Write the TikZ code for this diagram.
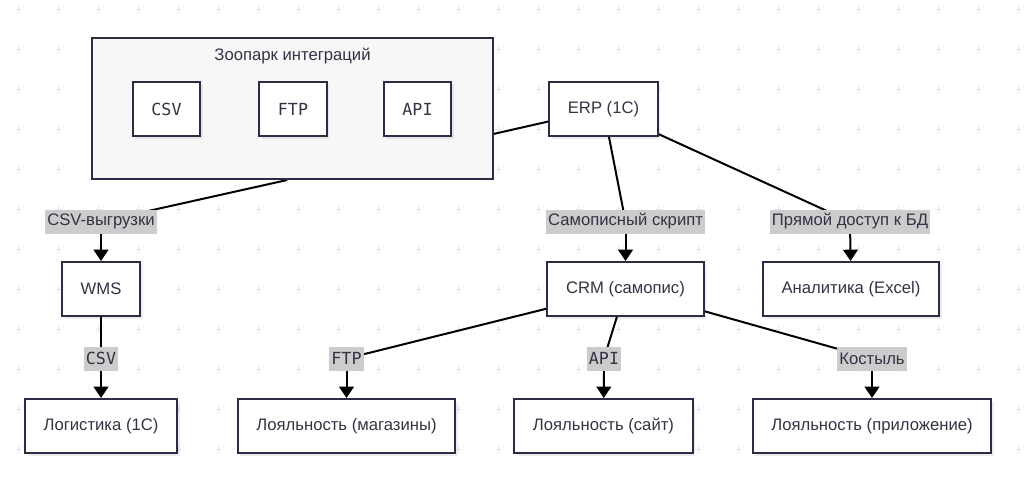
\documentclass[tikz,border=0pt]{standalone}
\usepackage{fontspec}
\setmainfont{Liberation Sans}
\newfontfamily\plexmono{DejaVu Sans Mono}
\usetikzlibrary{arrows.meta,shadows}
\definecolor{boxline}{HTML}{2E2B45}
\definecolor{boxtext}{HTML}{333344}
\definecolor{zoofill}{HTML}{F7F7F7}
\definecolor{labelfill}{HTML}{CCCCCC}
\definecolor{gridmark}{HTML}{DDE9EE}
\newcommand{\lineWidth}[0]{1.5pt}
\newcommand{\boxFont}[0]{\fontsize{12.5}{14}\selectfont}
\newcommand{\mono}[1]{{\plexmono #1}}
\pgfdeclarelayer{grid}
\pgfdeclarelayer{edges}
\pgfsetlayers{grid,edges,main}

\begin{document}
\begin{tikzpicture}[x=0.75pt, y=-0.75pt]
  \tikzset{
    box/.style={draw=boxline, line width=\lineWidth, fill=white, text=boxtext,
      minimum height=40.5pt, inner xsep=14pt, font=\boxFont,
      drop shadow={shadow xshift=2pt, shadow yshift=-2pt, fill=black, opacity=0.07}},
    edgelabel/.style={fill=labelfill, text=boxtext, inner xsep=1.5pt, inner ysep=0pt,
      minimum height=18pt, font=\boxFont},
    link/.style={line width=\lineWidth, black},
    arrow/.style={link, -{Triangle[length=8.5pt,width=11pt]}}
  }
  \useasboundingbox (0,0) rectangle (1024,480);
  % dotted background
  \begin{pgfonlayer}{grid}
    \fill[white] (0,0) rectangle (1024,480);
    \foreach \gx in {18,38,...,1018}
      \foreach \gy in {9,29,...,469}
        \fill[gridmark!70] (\gx,\gy) circle (0.5pt);
    \foreach \gx in {18,58,...,1018}
      \foreach \gy in {9,49,...,449}
        \draw[gridmark, line width=0.7pt] (\gx-3,\gy) -- (\gx+3,\gy) (\gx,\gy-3) -- (\gx,\gy+3);
  \end{pgfonlayer}

  % integration zoo
  \node[draw=boxline, line width=\lineWidth, fill=zoofill, minimum width=300.75pt,
    minimum height=105.75pt] (Zoo) at (292.5,108.5) {};
  \node[anchor=north, text=boxtext, font=\boxFont] (Zoo-title) at ([yshift=-4.5pt]Zoo.north) {Зоопарк интеграций};
  \node[box] (Zoo-1) at (166.5,109) {\mono{CSV}};
  \node[box] (Zoo-2) at (293,109) {\mono{FTP}};
  \node[box] (Zoo-3) at (417.5,109) {\mono{API}};

  % systems
  \node[box] (ERP) at (603.5,109) {ERP (1С)};
  \node[box] (WMS) at (101,289) {WMS};
  \node[box] (CRM) at (625.5,289) {CRM (самопис)};
  \node[box] (An-1) at (851,289) {Аналитика (Excel)};
  \node[box] (Log-1) at (101,426) {Логистика (1С)};
  \node[box] (Loy-1) at (346.5,426) {Лояльность (магазины)};
  \node[box] (Loy-2) at (603.5,426) {Лояльность (сайт)};
  \node[box] (Loy-3) at (872,426) {Лояльность (приложение)};

  % edge labels
  \node[edgelabel] (E-1) at (101,221.5) {CSV-выгрузки};
  \node[edgelabel] (E-2) at (625.5,221.5) {Самописный скрипт};
  \node[edgelabel] (E-3) at (850,221.5) {Прямой доступ к БД};
  \node[edgelabel] (E-4) at (101,358.5) {\mono{CSV}};
  \node[edgelabel] (E-5) at (346.5,358.5) {\mono{FTP}};
  \node[edgelabel] (E-6) at (604,358.5) {\mono{API}};
  \node[edgelabel] (E-7) at (872,358.5) {Костыль};

  \begin{pgfonlayer}{edges}
    \draw[link] (ERP) -- ([yshift=-19pt]Zoo.east);
    \draw[link] ([xshift=-4pt]Zoo.south) -- (E-1.center);
    \draw[arrow] (E-1.center) -- (WMS);
    \draw[link] (ERP) -- (E-2.center);
    \draw[arrow] (E-2.center) -- (CRM);
    \draw[link] (ERP) -- (E-3.center);
    \draw[arrow] (E-3.center) -- (An-1);
    \draw[link] (WMS) -- (E-4.center);
    \draw[arrow] (E-4.center) -- (Log-1);
    \draw[link] (CRM) -- (E-5.center);
    \draw[arrow] (E-5.center) -- (Loy-1);
    \draw[link] (CRM) -- (E-6.center);
    \draw[arrow] (E-6.center) -- (Loy-2);
    \draw[link] (CRM) -- (E-7.center);
    \draw[arrow] (E-7.center) -- (Loy-3);
  \end{pgfonlayer}
\end{tikzpicture}
\end{document}
